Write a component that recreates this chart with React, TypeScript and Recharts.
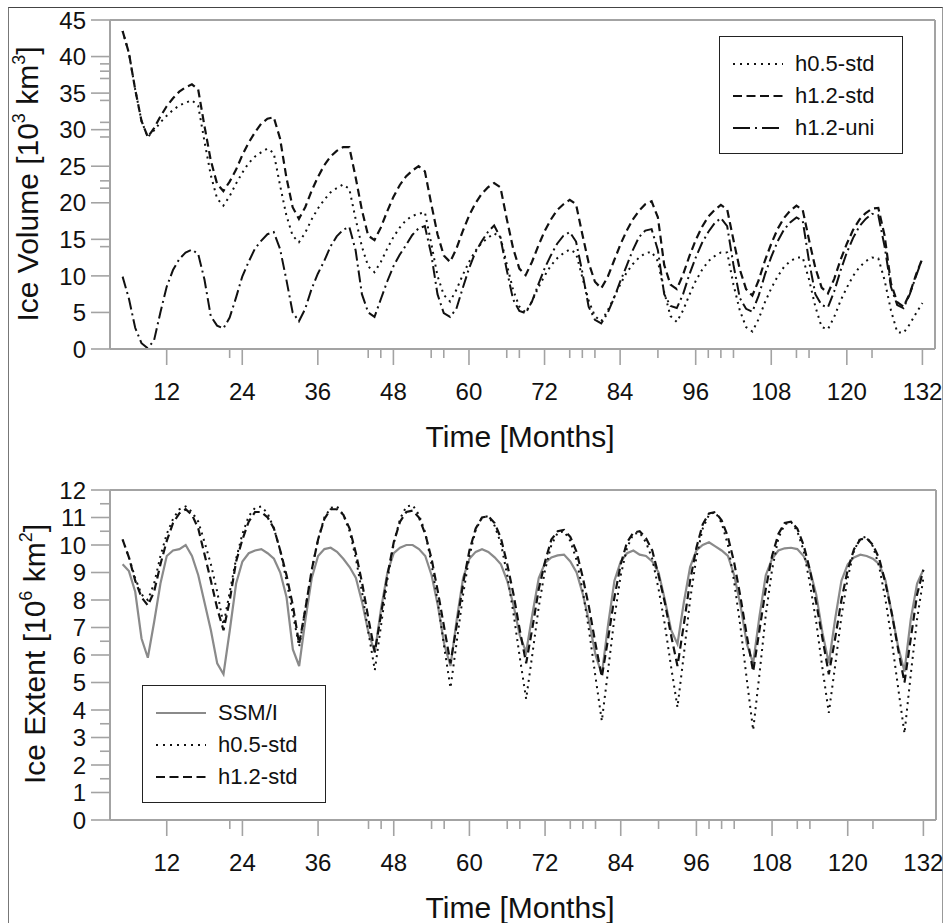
import React from 'react';
import { LineChart, Line, XAxis, YAxis, ReferenceLine, Legend } from 'recharts';

const FONT = '"Liberation Sans", Arial, Helvetica, sans-serif';
const AXIS = '#a3a3a3';
const INK = '#111';

// months 5 .. 132
const MONTHS = [
  5, 6, 7, 8, 9, 10, 11, 12, 13, 14, 15, 16,
  17, 18, 19, 20, 21, 22, 23, 24, 25, 26, 27, 28,
  29, 30, 31, 32, 33, 34, 35, 36, 37, 38, 39, 40,
  41, 42, 43, 44, 45, 46, 47, 48, 49, 50, 51, 52,
  53, 54, 55, 56, 57, 58, 59, 60, 61, 62, 63, 64,
  65, 66, 67, 68, 69, 70, 71, 72, 73, 74, 75, 76,
  77, 78, 79, 80, 81, 82, 83, 84, 85, 86, 87, 88,
  89, 90, 91, 92, 93, 94, 95, 96, 97, 98, 99, 100,
  101, 102, 103, 104, 105, 106, 107, 108, 109, 110, 111, 112,
  113, 114, 115, 116, 117, 118, 119, 120, 121, 122, 123, 124,
  125, 126, 127, 128, 129, 130, 131, 132,
];

// Ice volume [10^3 km^3]
const VOL_H05 = [
  43.5, 40.5, 35.5, 31.2, 29.0, 29.9, 31.0, 31.9, 32.7, 33.3, 33.7, 34.0,
  33.3, 28.4, 23.8, 20.6, 19.6, 20.9, 22.6, 24.1, 25.4, 26.3, 26.9, 27.4,
  26.8, 22.4, 18.3, 15.5, 14.6, 15.9, 17.7, 19.2, 20.4, 21.4, 22.0, 22.5,
  21.9, 17.8, 14.0, 11.3, 10.5, 11.9, 13.7, 15.3, 16.6, 17.6, 18.2, 18.5,
  18.7, 14.5, 10.0, 7.4, 6.5, 8.1, 10.1, 11.9, 13.4, 14.5, 15.2, 15.8,
  15.3, 11.6, 8.1, 5.8, 5.0, 6.5, 8.4, 10.0, 11.4, 12.4, 13.1, 13.6,
  13.1, 9.8, 6.6, 4.5, 3.8, 5.2, 7.0, 8.8, 10.4, 11.6, 12.5, 13.1,
  13.3, 12.0, 7.8, 4.5, 3.7, 5.3, 7.4, 9.3, 10.8, 12.0, 12.7, 13.2,
  13.2, 8.8, 5.3, 3.0, 2.4, 4.1, 6.4, 8.3, 9.9, 11.2, 12.0, 12.5,
  12.5, 9.5, 5.8, 3.0, 2.7, 4.4, 6.6, 8.4, 10.0, 11.2, 12.0, 12.5,
  12.4, 9.4, 5.3, 2.3, 2.2, 3.4, 4.9, 6.3,
];
const VOL_H12 = [
  43.5, 40.5, 35.5, 31.2, 29.0, 30.2, 31.8, 33.2, 34.3, 35.2, 35.8, 36.2,
  35.5, 30.5, 25.8, 22.6, 21.6, 22.9, 24.5, 26.5, 28.2, 29.6, 30.8, 31.5,
  31.7, 28.8, 23.5, 19.4, 17.8, 19.4, 21.6, 23.5, 25.1, 26.3, 27.1, 27.6,
  27.6, 23.5, 19.0, 15.5, 14.9, 16.6, 18.8, 20.8, 22.4, 23.6, 24.4, 25.0,
  24.3, 19.9, 15.7, 12.8, 11.9, 13.7, 16.1, 18.2, 19.9, 21.2, 22.1, 22.7,
  22.1, 17.8, 13.8, 11.0, 10.1, 11.9, 14.1, 16.1, 17.7, 19.0, 19.8, 20.4,
  19.8, 15.7, 11.8, 9.2, 8.3, 9.8, 12.0, 14.2, 16.1, 17.7, 18.9, 19.8,
  20.2, 18.0, 11.5, 8.8, 8.2, 10.2, 12.7, 14.9, 16.7, 18.1, 19.0, 19.7,
  19.1, 14.9, 10.9, 8.2, 7.3, 9.4, 12.1, 14.4, 16.4, 17.9, 18.9, 19.6,
  19.0, 14.9, 11.1, 8.4, 7.6, 9.6, 12.2, 14.4, 16.3, 17.7, 18.6, 19.2,
  19.3, 15.5, 9.0, 6.4, 5.8, 7.6, 10.2, 12.4,
];
const VOL_UNI = [
  9.9, 6.9, 2.9, 0.8, 0.1, 1.2, 5.0, 8.5, 10.8, 12.3, 13.2, 13.6,
  13.0, 9.5, 4.5, 3.2, 2.8, 4.3, 7.0, 9.9, 11.9, 13.7, 14.8, 15.7,
  16.0, 13.7, 9.5, 5.0, 3.8, 5.5, 8.2, 10.3, 12.0, 14.0, 15.4, 16.3,
  16.7, 13.5, 7.5, 5.0, 4.4, 6.8, 9.2, 11.3, 12.9, 14.2, 15.6, 16.5,
  16.8, 13.0, 7.5, 4.9, 4.4, 5.5, 8.3, 11.0, 13.2, 14.7, 16.0, 16.9,
  15.2, 10.8, 6.8, 5.2, 4.9, 6.5, 8.8, 11.0, 12.8, 14.4, 15.5, 16.0,
  14.7, 10.5, 5.8, 4.0, 3.5, 4.9, 6.9, 9.2, 11.3, 13.5, 15.3, 16.2,
  16.4, 13.5, 7.5, 5.9, 5.6, 7.5, 10.2, 12.5, 14.5, 16.0, 17.2, 17.9,
  16.8, 11.5, 7.0, 5.5, 5.1, 7.3, 10.2, 12.6, 14.7, 16.3, 17.3, 18.0,
  17.5, 12.0, 7.5, 6.0, 5.7, 7.9, 10.7, 13.2, 15.2, 16.8, 17.8, 18.5,
  18.3, 14.0, 8.5, 6.0, 5.6, 7.5, 10.0, 12.4,
];

// Ice extent [10^6 km^2]
const EXT_SSMI = [
  9.3, 9.05, 8.3, 6.6, 5.9, 7.2, 8.6, 9.6, 9.8, 9.85, 10.0, 9.6,
  8.9, 7.9, 6.9, 5.7, 5.3, 6.9, 8.6, 9.4, 9.7, 9.8, 9.85, 9.7,
  9.5, 9.0, 8.1, 6.2, 5.6, 7.3, 8.8, 9.6, 9.85, 9.9, 9.75, 9.5,
  9.2, 8.8, 7.9, 6.8, 6.1, 7.7, 9.0, 9.7, 9.9, 10.0, 10.0, 9.85,
  9.6, 8.9, 7.8, 6.4, 5.6, 7.3, 8.8, 9.5, 9.75, 9.85, 9.75, 9.55,
  9.3, 8.7, 7.8, 6.7, 6.1, 7.5, 8.8, 9.35, 9.55, 9.62, 9.65, 9.4,
  9.0, 8.2, 7.2, 6.0, 5.3, 7.1, 8.7, 9.4, 9.7, 9.8, 9.65, 9.6,
  9.4, 9.0, 8.0, 6.9, 6.4, 7.9, 9.2, 9.8, 10.0, 10.1, 9.95, 9.8,
  9.6, 8.9, 7.8, 6.4, 5.7, 7.4, 8.9, 9.5, 9.8, 9.88, 9.9, 9.85,
  9.6, 9.1, 8.2, 6.8, 5.7, 7.3, 8.7, 9.3, 9.55, 9.65, 9.6, 9.5,
  9.3, 8.7, 7.5, 6.3, 5.4, 7.3, 8.6, 9.1,
];
const EXT_H05 = [
  10.2, 9.55, 8.8, 8.2, 8.0, 8.6, 9.6, 10.4, 10.95, 11.3, 11.4, 11.2,
  10.85, 10.1, 9.3, 8.3, 7.1, 8.3, 9.5, 10.4, 11.05, 11.35, 11.4, 11.15,
  10.6, 9.8, 8.7, 7.5, 6.3, 7.7, 9.1, 10.2, 11.0, 11.35, 11.4, 11.1,
  10.5, 9.5, 8.25, 6.8, 5.45, 7.1, 8.75, 10.05, 10.95, 11.4, 11.45, 11.1,
  10.45, 9.3, 7.9, 6.3, 4.8, 6.5, 8.2, 9.6, 10.55, 11.0, 11.05, 10.7,
  10.05, 8.9, 7.5, 5.9, 4.4, 6.05, 7.75, 9.1, 10.0, 10.45, 10.5, 10.15,
  9.45, 8.3, 6.85, 5.2, 3.6, 5.45, 7.35, 8.9, 9.9, 10.4, 10.45, 10.1,
  9.5, 8.4, 7.1, 5.55, 4.1, 6.0, 8.0, 9.55, 10.6, 11.1, 11.2, 10.8,
  10.0, 8.65, 7.0, 5.1, 3.27, 5.3, 7.45, 9.1, 10.25, 10.75, 10.85, 10.5,
  9.8, 8.6, 7.2, 5.5, 3.9, 5.6, 7.4, 8.8, 9.8, 10.25, 10.3, 9.95,
  9.2, 8.0, 6.5, 4.8, 3.15, 5.3, 7.3, 8.8,
];
const EXT_H12 = [
  10.2, 9.55, 8.7, 8.1, 7.8, 8.3, 9.3, 10.15, 10.8, 11.15, 11.3, 11.1,
  10.6, 9.65, 8.7, 7.7, 6.9, 8.0, 9.4, 10.2, 10.85, 11.2, 11.2, 11.0,
  10.6, 9.8, 8.9, 7.8, 6.4, 7.7, 9.1, 10.2, 10.95, 11.3, 11.3, 11.1,
  10.6, 9.7, 8.6, 7.3, 6.1, 7.5, 8.9, 10.1, 10.85, 11.2, 11.25, 11.0,
  10.4, 9.5, 8.3, 7.0, 5.7, 7.1, 8.6, 9.8, 10.6, 11.0, 11.05, 10.8,
  10.25, 9.3, 8.2, 6.9, 5.7, 7.0, 8.4, 9.4, 10.2, 10.5, 10.55, 10.3,
  9.75, 8.8, 7.7, 6.4, 5.2, 6.6, 8.1, 9.3, 10.1, 10.45, 10.5, 10.25,
  9.8, 8.9, 7.9, 6.7, 5.6, 7.1, 8.7, 9.9, 10.75, 11.15, 11.2, 10.9,
  10.3, 9.35, 8.1, 6.7, 5.4, 6.9, 8.4, 9.6, 10.4, 10.8, 10.85, 10.6,
  10.0, 9.1, 7.9, 6.6, 5.3, 6.6, 8.0, 9.1, 9.85, 10.2, 10.25, 10.0,
  9.5, 8.6, 7.5, 6.2, 5.0, 6.6, 8.2, 9.1,
];

// ticks
const X_MAJOR = [12, 24, 36, 48, 60, 72, 84, 96, 108, 120, 132];
const X_MINOR = [22, 44, 46, 54, 56, 66, 68, 76, 78, 80, 90, 98, 100, 102, 112, 114, 124];
const VOL_Y_MAJOR = [0, 5, 10, 15, 20, 25, 30, 35, 40, 45];
const VOL_Y_MINOR = [14, 22, 23, 29, 31, 34, 37, 38, 39];
const EXT_Y_MAJOR = [0, 1, 2, 3, 4, 5, 6, 7, 8, 9, 10, 11, 12];
const EXT_Y_MINOR = [1.5, 2.5, 3.5, 6.5, 10.5, 11.5];

const X_DOMAIN: [number, number] = [3, 134];

const volumeData = MONTHS.map((m, i) => ({ month: m, h05: VOL_H05[i], h12: VOL_H12[i], uni: VOL_UNI[i] }));
const extentData = MONTHS.map((m, i) => ({ month: m, ssmi: EXT_SSMI[i], h05: EXT_H05[i], h12: EXT_H12[i] }));

const X_TICKS = [...X_MAJOR, ...X_MINOR].sort((a, b) => a - b);

const DOT = '2 4.5';
const DASH = '8 4.5';
const DASHDOT = '12 4 2 4';

const X_TICK_SIZE = 16;
const X_TICK_MARGIN = 18;
const Y_TICK_SIZE = 19;
const Y_TICK_MARGIN = 4;

const XTick = (props: any) => {
  const { x, y, payload } = props;
  const ay = y - X_TICK_SIZE - X_TICK_MARGIN;
  const major = X_MAJOR.includes(payload.value);
  return (
    <g>
      <line x1={x} x2={x} y1={ay} y2={ay + (major ? 16 : 9)} stroke={AXIS} strokeWidth={1.6} />
      {major && (
        <text x={x} y={y} dy="0.71em" textAnchor="middle" fontSize={24} fill={INK} fontFamily={FONT}>
          {payload.value}
        </text>
      )}
    </g>
  );
};

const makeYTick = (majors: number[]) => (props: any) => {
  const { x, y, payload } = props;
  const ax = x + Y_TICK_SIZE + Y_TICK_MARGIN;
  const major = majors.includes(payload.value);
  return (
    <g>
      <line x1={ax - (major ? 19 : 10)} x2={ax} y1={y} y2={y} stroke={AXIS} strokeWidth={1.6} />
      {major && (
        <text x={ax - 24} y={y} dy="0.36em" textAnchor="end" fontSize={24} fill={INK} fontFamily={FONT}>
          {payload.value}
        </text>
      )}
    </g>
  );
};

const VolYTick = makeYTick(VOL_Y_MAJOR);
const ExtYTick = makeYTick(EXT_Y_MAJOR);

type Item = { label: string; stroke: string; dash?: string; width: number };

const VOL_LEGEND: Item[] = [
  { label: 'h0.5-std', stroke: INK, dash: '2 5', width: 2 },
  { label: 'h1.2-std', stroke: INK, dash: '9 4.5', width: 2.2 },
  { label: 'h1.2-uni', stroke: INK, dash: '17 5 2 5', width: 2 },
];
const EXT_LEGEND: Item[] = [
  { label: 'SSM/I', stroke: '#8a8a8a', width: 2.2 },
  { label: 'h0.5-std', stroke: INK, dash: '2 5', width: 2 },
  { label: 'h1.2-std', stroke: INK, dash: '9 4.5', width: 2.2 },
];

const LegendBox = ({ items }: { items: Item[] }) => (
  <div
    style={{
      width: 184,
      height: 118,
      boxSizing: 'border-box',
      border: '1.6px solid #222',
      background: '#fff',
      padding: '11px 0 0 13px',
      fontFamily: FONT,
    }}
  >
    {items.map((it) => (
      <div key={it.label} style={{ display: 'flex', alignItems: 'center', height: 32 }}>
        <svg width={50} height={6} style={{ display: 'block' }}>
          <line x1={0} x2={50} y1={3} y2={3} stroke={it.stroke} strokeWidth={it.width} strokeDasharray={it.dash} />
        </svg>
        <span style={{ marginLeft: 12, fontSize: 22, color: INK, lineHeight: '32px' }}>{it.label}</span>
      </div>
    ))}
  </div>
);

export default function App() {
  return (
    <div
      style={{
        position: 'absolute',
        left: 0,
        top: 0,
        width: 948,
        height: 923,
        overflow: 'hidden',
        background: '#fff',
        fontFamily: FONT,
      }}
    >
      <div
        style={{
          position: 'absolute',
          left: 8,
          top: 7,
          width: 935,
          height: 940,
          boxSizing: 'border-box',
          borderTop: '1.5px solid #444',
          borderLeft: '1px solid #777',
          borderRight: '1px solid #999',
        }}
      />

      <div style={{ position: 'absolute', left: 0, top: 0 }}>
        <LineChart width={948} height={460} data={volumeData} margin={{ top: 20, right: 13, left: 50, bottom: 71 }}>
          <XAxis
            type="number"
            dataKey="month"
            domain={X_DOMAIN}
            ticks={X_TICKS}
            interval={0}
            tick={XTick}
            tickLine={false}
            tickSize={X_TICK_SIZE}
            tickMargin={X_TICK_MARGIN}
            height={40}
            axisLine={{ stroke: AXIS, strokeWidth: 2 }}
            allowDataOverflow
          />
          <YAxis
            type="number"
            domain={[0, 45]}
            ticks={[...VOL_Y_MAJOR, ...VOL_Y_MINOR]}
            interval={0}
            tick={VolYTick}
            tickLine={false}
            tickSize={Y_TICK_SIZE}
            tickMargin={Y_TICK_MARGIN}
            width={60}
            axisLine={{ stroke: AXIS, strokeWidth: 2 }}
          />
          <ReferenceLine y={45} stroke={AXIS} strokeWidth={2} />
          <ReferenceLine x={134} stroke={AXIS} strokeWidth={2} />
          <Line type="linear" dataKey="h05" stroke={INK} strokeWidth={2} strokeDasharray={DOT} dot={false} isAnimationActive={false} />
          <Line type="linear" dataKey="h12" stroke={INK} strokeWidth={2.2} strokeDasharray={DASH} dot={false} isAnimationActive={false} />
          <Line type="linear" dataKey="uni" stroke={INK} strokeWidth={2} strokeDasharray={DASHDOT} dot={false} isAnimationActive={false} />
          <Legend
            layout="vertical"
            align="center"
            verticalAlign="middle"
            wrapperStyle={{ left: 719, top: 36, width: 184, height: 118 }}
            content={() => <LegendBox items={VOL_LEGEND} />}
          />
        </LineChart>
      </div>

      <div style={{ position: 'absolute', left: 0, top: 460 }}>
        <LineChart width={948} height={463} data={extentData} margin={{ top: 30, right: 12, left: 50, bottom: 63 }}>
          <XAxis
            type="number"
            dataKey="month"
            domain={X_DOMAIN}
            ticks={X_TICKS}
            interval={0}
            tick={XTick}
            tickLine={false}
            tickSize={X_TICK_SIZE}
            tickMargin={X_TICK_MARGIN}
            height={40}
            axisLine={{ stroke: AXIS, strokeWidth: 2 }}
            allowDataOverflow
          />
          <YAxis
            type="number"
            domain={[0, 12]}
            ticks={[...EXT_Y_MAJOR, ...EXT_Y_MINOR]}
            interval={0}
            tick={ExtYTick}
            tickLine={false}
            tickSize={Y_TICK_SIZE}
            tickMargin={Y_TICK_MARGIN}
            width={60}
            axisLine={{ stroke: AXIS, strokeWidth: 2 }}
          />
          <ReferenceLine y={12} stroke={AXIS} strokeWidth={2} />
          <ReferenceLine x={134} stroke={AXIS} strokeWidth={2} />
          <Line type="linear" dataKey="ssmi" stroke="#8a8a8a" strokeWidth={2.2} dot={false} isAnimationActive={false} />
          <Line type="linear" dataKey="h05" stroke={INK} strokeWidth={2} strokeDasharray={DOT} dot={false} isAnimationActive={false} />
          <Line type="linear" dataKey="h12" stroke={INK} strokeWidth={2.2} strokeDasharray={DASH} dot={false} isAnimationActive={false} />
          <Legend
            layout="vertical"
            align="center"
            verticalAlign="middle"
            wrapperStyle={{ left: 142, top: 225, width: 184, height: 118 }}
            content={() => <LegendBox items={EXT_LEGEND} />}
          />
        </LineChart>
      </div>

      <svg
        width={948}
        height={923}
        style={{ position: 'absolute', left: 0, top: 0, pointerEvents: 'none' }}
        fontFamily={FONT}
        fill={INK}
      >
        <text x={520} y={447} textAnchor="middle" fontSize={30}>Time [Months]</text>
        <text x={520} y={918} textAnchor="middle" fontSize={30}>Time [Months]</text>
        <text transform="translate(38,184) rotate(-90)" textAnchor="middle" fontSize={30}>
          Ice Volume [10<tspan dy={-13} fontSize={18}>3</tspan>
          <tspan dy={13}> km</tspan>
          <tspan dy={-13} fontSize={18}>3</tspan>
          <tspan dy={13}>]</tspan>
        </text>
        <text transform="translate(45,654) rotate(-90)" textAnchor="middle" fontSize={30}>
          Ice Extent [10<tspan dy={-13} fontSize={18}>6</tspan>
          <tspan dy={13}> km</tspan>
          <tspan dy={-13} fontSize={18}>2</tspan>
          <tspan dy={13}>]</tspan>
        </text>
      </svg>
    </div>
  );
}
